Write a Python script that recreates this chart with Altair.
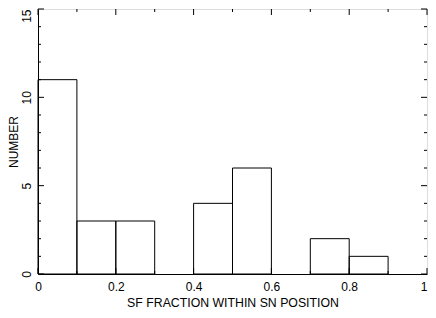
import altair as alt
import pandas as pd

bin_start = [0.0, 0.1, 0.2, 0.4, 0.5, 0.7, 0.8]
bin_end = [0.1, 0.2, 0.3, 0.5, 0.6, 0.8, 0.9]
counts = [11, 3, 3, 4, 6, 2, 1]

x_major = [0.0, 0.2, 0.4, 0.6, 0.8, 1.0]
x_minor = [0.1, 0.3, 0.5, 0.7, 0.9]
y_major = [0, 5, 10, 15]
y_minor = [1, 2, 3, 4, 6, 7, 8, 9, 11, 12, 13, 14]

W, H = 389, 265
FONT = "Liberation Sans"

bars = pd.DataFrame({"start": bin_start, "end": bin_end, "count": counts})

xs = alt.Scale(domain=[0, 1], nice=False, zero=False)
ys = alt.Scale(domain=[0, 15], nice=False)

x_align = {"condition": {"test": "datum.value == 1", "value": "right"}, "value": "center"}
y_align = {"condition": {"test": "datum.value == 15", "value": "right"}, "value": "center"}

base = alt.Chart(bars).mark_rect(filled=False, stroke="black", strokeWidth=1).encode(
    x=alt.X("start:Q", scale=xs,
            axis=alt.Axis(title="SF FRACTION WITHIN SN POSITION", values=x_major,
                          labelExpr="datum.value == 0 ? '0' : datum.value == 1 ? '1' : format(datum.value, '.1f')",
                          ticks=False, grid=False, domainColor="black", labelPadding=7,
                          labelAlign=x_align,
                          titlePadding=4, labelFontSize=12, titleFontSize=12.3,
                          labelFont=FONT, titleFont=FONT, titleFontWeight="normal",
                          labelColor="black", titleColor="black")),
    x2="end:Q",
    y=alt.Y("count:Q", scale=ys,
            axis=alt.Axis(title="NUMBER", values=y_major, ticks=False, grid=False,
                          domainColor="black", labelAngle=270, labelAlign=y_align,
                          labelBaseline="bottom", labelPadding=5, titlePadding=0,
                          labelFontSize=12, titleFontSize=12, labelFont=FONT, titleFont=FONT,
                          titleFontWeight="normal", labelColor="black", titleColor="black")),
    y2=alt.datum(0),
)

def xticks(vals, length):
    df = pd.DataFrame({"v": vals})
    b = alt.Chart(df).mark_rule(color="black", strokeWidth=1)
    bottom = b.encode(x=alt.X("v:Q", scale=xs), y=alt.value(H), y2=alt.value(H - length))
    top = b.encode(x=alt.X("v:Q", scale=xs), y=alt.value(0), y2=alt.value(length))
    return [bottom, top]

def yticks(vals, length):
    df = pd.DataFrame({"v": vals})
    b = alt.Chart(df).mark_rule(color="black", strokeWidth=1)
    left = b.encode(y=alt.Y("v:Q", scale=ys), x=alt.value(0), x2=alt.value(length))
    right = b.encode(y=alt.Y("v:Q", scale=ys), x=alt.value(W), x2=alt.value(W - length))
    return [left, right]

layers = [base] + xticks(x_major, 6) + xticks(x_minor, 3) + yticks(y_major, 6) + yticks(y_minor, 3)

chart = alt.layer(*layers).properties(
    width=W, height=H,
    autosize=alt.AutoSizeParams(type="none"),
    padding={"left": 30, "top": 1, "right": 1, "bottom": 36},
).configure_view(stroke="black", strokeWidth=1).configure(background="white")

chart.save("out.html", embed_options={"renderer": "svg", "actions": False})
